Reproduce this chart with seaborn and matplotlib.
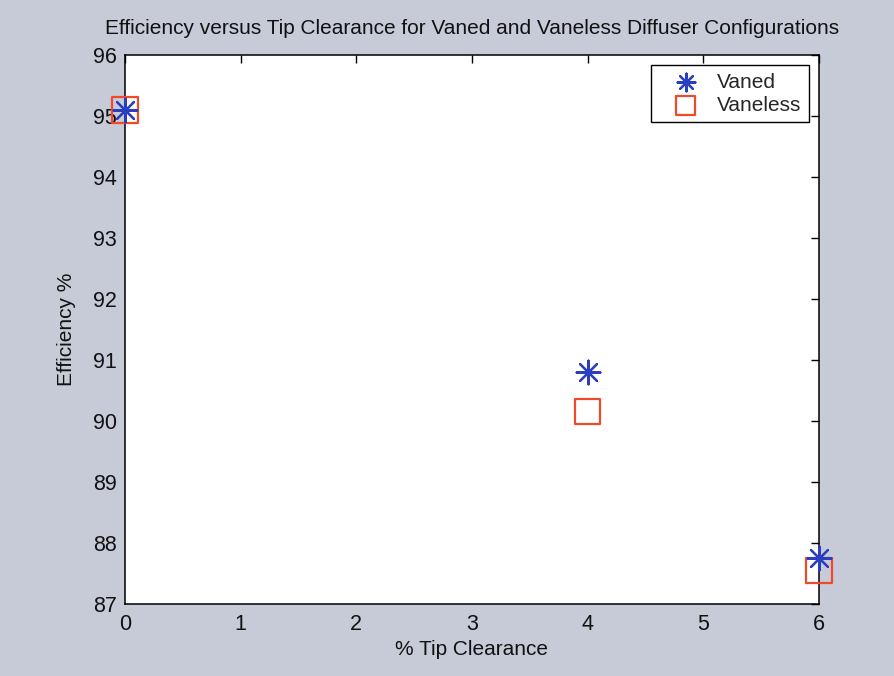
import matplotlib
matplotlib.use("Agg")
import matplotlib.pyplot as plt
import seaborn as sns
import pandas as pd

# Measured efficiency at each tip clearance
tip_clearance = [0, 4, 6]
vaned_eff = [95.1, 90.8, 87.75]
vaneless_eff = [95.1, 90.15, 87.55]

x_ticks = [0, 1, 2, 3, 4, 5, 6]
y_ticks = [87, 88, 89, 90, 91, 92, 93, 94, 95, 96]

vaned = pd.DataFrame({"clearance": tip_clearance, "eff": vaned_eff})
vaneless = pd.DataFrame({"clearance": tip_clearance, "eff": vaneless_eff})

sns.set_theme(style="white")
plt.rcParams["font.family"] = ["Liberation Sans", "DejaVu Sans"]
plt.rcParams["xtick.direction"] = "in"
plt.rcParams["ytick.direction"] = "in"

bg = "#c6cbd7"
fig = plt.figure(figsize=(8.95, 6.76), dpi=100, facecolor=bg)
ax = fig.add_axes([0.1397, 0.1065, 0.7753, 0.8121])
ax.set_facecolor("white")

sns.scatterplot(data=vaned, x="clearance", y="eff", ax=ax, marker=(8, 2, 0),
                s=290, color="#2a3fc0", linewidth=1.6, edgecolor="#2a3fc0",
                label="Vaned", zorder=4, clip_on=False)
sns.scatterplot(data=vaneless, x="clearance", y="eff", ax=ax, marker="s",
                s=330, facecolor="none", edgecolor="#f04a2a", linewidth=1.6,
                label="Vaneless", zorder=3, clip_on=False)

ax.set_xlim(0, 6)
ax.set_ylim(87, 96)
ax.set_xticks(x_ticks)
ax.set_yticks(y_ticks)
ax.tick_params(axis="both", which="both", length=6, width=1.0, color="black",
               top=True, right=True, labelsize=15.5, labelcolor="#111111")
ax.tick_params(axis="x", pad=7)
ax.tick_params(axis="y", pad=6)
for sp in ax.spines.values():
    sp.set_color("black")
    sp.set_linewidth(1.1)

ax.set_xlabel("% Tip Clearance", fontsize=15, labelpad=4, color="#111111")
ax.set_ylabel("Efficiency %", fontsize=15, labelpad=12, color="#111111")
ax.set_title("Efficiency versus Tip Clearance for Vaned and Vaneless Diffuser Configurations",
             fontsize=15, pad=15, color="#111111")

leg = ax.legend(loc="upper right", fontsize=15, frameon=True, fancybox=False,
                edgecolor="black", framealpha=1, borderpad=0.35, handletextpad=0.2,
                labelspacing=0.2, borderaxespad=0.5, markerscale=0.75,
                handlelength=2.6)
leg.get_frame().set_linewidth(1.0)

fig.savefig("out.png", dpi=100, facecolor=bg)
